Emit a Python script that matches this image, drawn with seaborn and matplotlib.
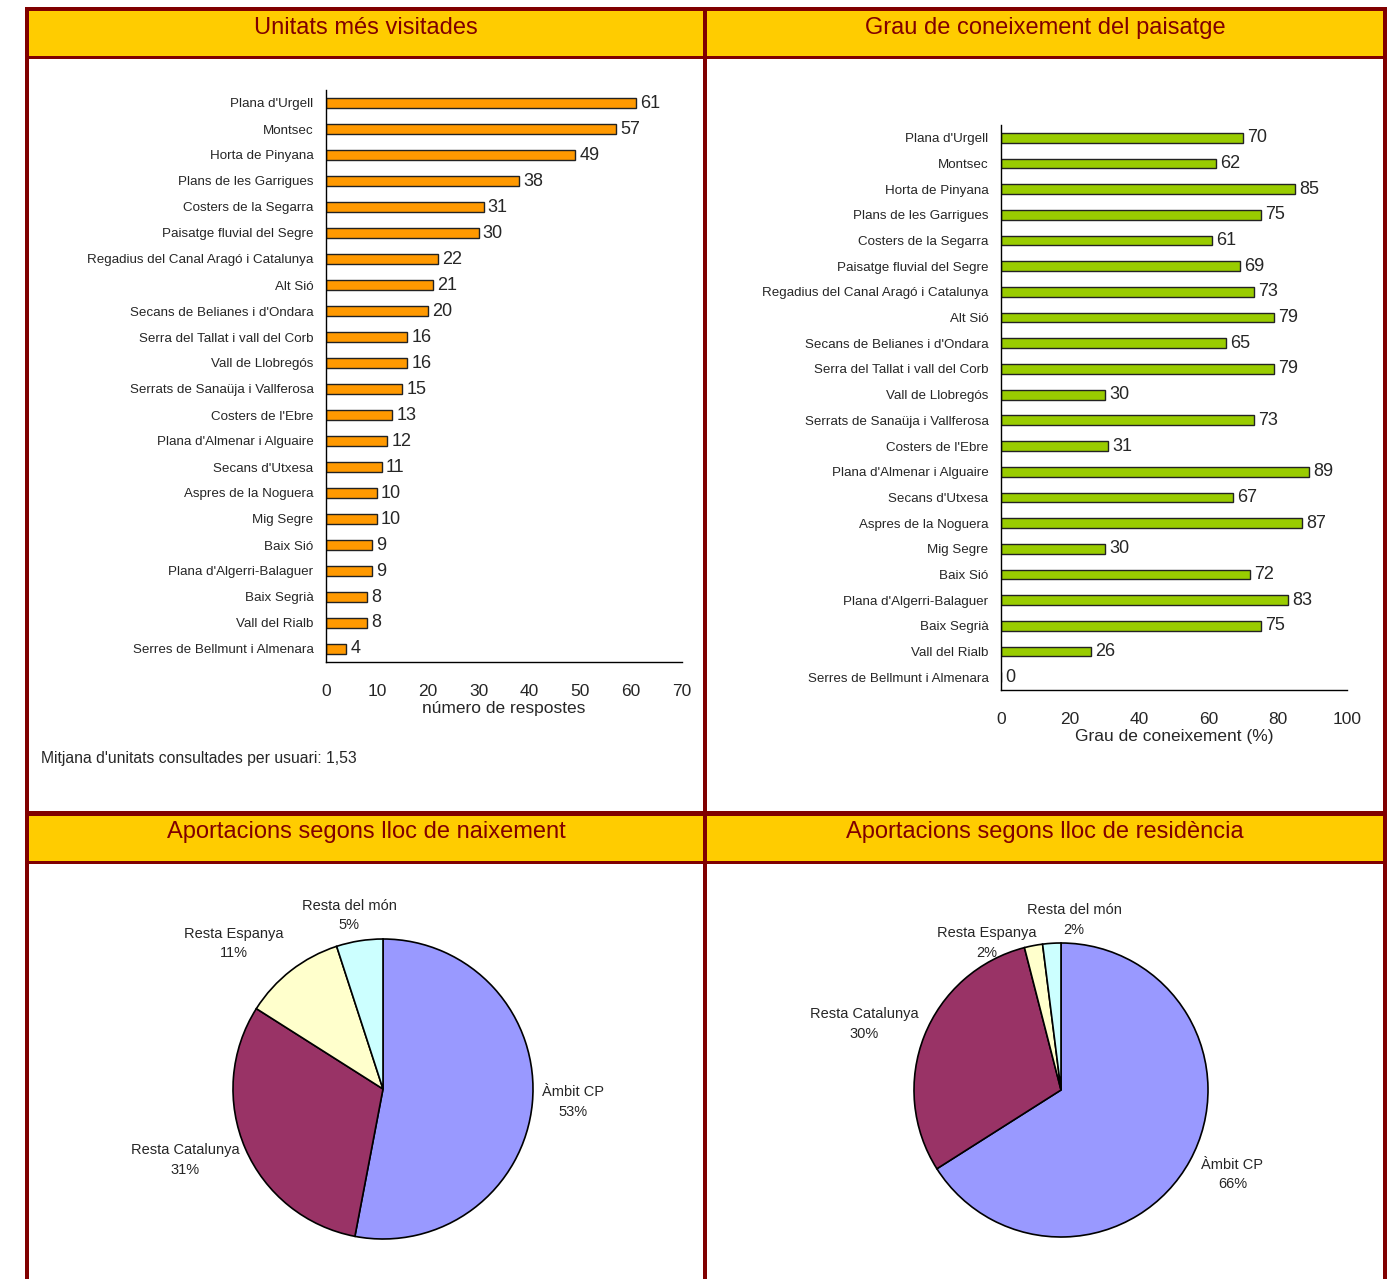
import numpy as np
import matplotlib
matplotlib.use("Agg")
import matplotlib.pyplot as plt
from matplotlib.patches import Rectangle
import seaborn as sns

# ==========================================
# Data
# ==========================================
unitats = ["Plana d'Urgell", "Montsec", "Horta de Pinyana", "Plans de les Garrigues",
           "Costers de la Segarra", "Paisatge fluvial del Segre",
           "Regadius del Canal Aragó i Catalunya", "Alt Sió", "Secans de Belianes i d'Ondara",
           "Serra del Tallat i vall del Corb", "Vall de Llobregós", "Serrats de Sanaüja i Vallferosa",
           "Costers de l'Ebre", "Plana d'Almenar i Alguaire", "Secans d'Utxesa",
           "Aspres de la Noguera", "Mig Segre", "Baix Sió", "Plana d'Algerri-Balaguer",
           "Baix Segrià", "Vall del Rialb", "Serres de Bellmunt i Almenara"]
visites = [61, 57, 49, 38, 31, 30, 22, 21, 20, 16, 16, 15, 13, 12, 11, 10, 10, 9, 9, 8, 8, 4]
coneixement = [70, 62, 85, 75, 61, 69, 73, 79, 65, 79, 30, 73, 31, 89, 67, 87, 30, 72, 83, 75, 26, 0]

pie_labels = ["Àmbit CP", "Resta Catalunya", "Resta Espanya", "Resta del món"]
naixement = [53, 31, 11, 5]
residencia = [66, 30, 2, 2]
pie_colors = ["#9999FF", "#993366", "#FFFFCC", "#CCFFFF"]

titles = ["Unitats més visitades", "Grau de coneixement del paisatge",
          "Aportacions segons lloc de naixement", "Aportacions segons lloc de residència"]

# ==========================================
# Style
# ==========================================
sns.set_style("white")
plt.rcParams['font.family'] = ['Liberation Sans', 'DejaVu Sans']
DARKRED = "#800000"
YELLOW = "#FFCC00"

W, H = 1392, 1279
fig = plt.figure(figsize=(W / 100, H / 100), dpi=100)


def px_axes(x0, y0, x1, y1):
    return fig.add_axes([x0 / W, 1 - y1 / H, (x1 - x0) / W, (y1 - y0) / H])


# background frame drawn in pixel coordinates
bg = fig.add_axes([0, 0, 1, 1])
bg.set_xlim(0, W)
bg.set_ylim(H, 0)
bg.axis("off")


def block(x0, y0, x1, y1, color):
    bg.add_patch(Rectangle((x0, y0), x1 - x0, y1 - y0, facecolor=color, edgecolor="none"))


block(29, 11, 1383, 57, YELLOW)
block(29, 816, 1383, 861, YELLOW)
block(25, 7, 29, H, DARKRED)
block(1383, 7, 1387, H, DARKRED)
block(25, 7, 1387, 11, DARKRED)
block(703, 7, 707, H, DARKRED)
block(25, 56, 1387, 59, DARKRED)
block(25, 811, 1387, 816, DARKRED)
block(25, 861, 1387, 864, DARKRED)

for (cx, cy), t in zip([(366, 28), (1045, 28), (366, 832), (1045, 832)], titles):
    bg.text(cx, cy, t, ha="center", va="center", color=DARKRED, fontsize=17)

bg.text(41, 758, "Mitjana d'unitats consultades per usuari: 1,53", ha="left", va="center",
        fontsize=11.3)


# ==========================================
# Bar panels
# ==========================================
def bar_panel(box, cats, vals, color, xmax, step, xlabel):
    ax = px_axes(*box)
    sns.barplot(x=vals, y=cats, orient="h", color=color, saturation=1, edgecolor="#222222",
                linewidth=1, width=0.38, ax=ax)
    n = len(cats)
    ax.set_xlim(0, xmax)
    ax.set_ylim(n - 0.5, -0.5)
    ax.set_xticks(np.arange(0, xmax + 1, step))
    ax.set_yticks(np.arange(-0.5, n, 1.0), minor=True)
    ax.tick_params(axis="y", which="major", length=0, pad=9, labelsize=9.6)
    ax.tick_params(axis="y", which="minor", length=3, width=1, direction="out", color="black")
    ax.tick_params(axis="x", length=5, width=1, direction="out", pad=11, labelsize=12.5,
                   color="black")
    ax.set_xlabel(xlabel, fontsize=12.5, labelpad=1)
    ax.set_ylabel("")
    sns.despine(ax=ax)
    for s in ["left", "bottom"]:
        ax.spines[s].set_color("black")
        ax.spines[s].set_linewidth(1)
    ax.bar_label(ax.containers[0], padding=3, fontsize=13)
    return ax


bar_panel((326, 90, 682, 662), unitats, visites, "#FF9900", 70, 10, "número de respostes")
bar_panel((1001, 125, 1347, 690), unitats, coneixement, "#99CC00", 100, 20,
          "Grau de coneixement (%)")


# ==========================================
# Pie panels
# ==========================================
def pie_panel(cx, cy, r, vals, dists, nudges):
    lim = 1.7
    ax = px_axes(cx - r * lim, cy - r * lim, cx + r * lim, cy + r * lim)
    wedges, _ = ax.pie(vals, colors=pie_colors, startangle=90, counterclock=False,
                       wedgeprops=dict(edgecolor="black", linewidth=1.2))
    ax.set_xlim(-lim, lim)
    ax.set_ylim(-lim, lim)
    ax.set_aspect("equal")
    for w, lab, v, d, nd in zip(wedges, pie_labels, vals, dists, nudges):
        ang = np.deg2rad((w.theta1 + w.theta2) / 2 + nd)
        ax.text(d * np.cos(ang), d * np.sin(ang), f"{lab}\n{v}%", ha="center", va="center",
                fontsize=10.5, linespacing=1.5)
    return ax


pie_panel(383, 1089, 150, naixement, [1.27, 1.4, 1.39, 1.18], [1.5, -3.7, 8, 2])
pie_panel(1061, 1090, 147, residencia, [1.3, 1.41, 1.12, 1.16], [2.5, 3, 16, -8])

fig.savefig("out.png", dpi=100, facecolor="white")
